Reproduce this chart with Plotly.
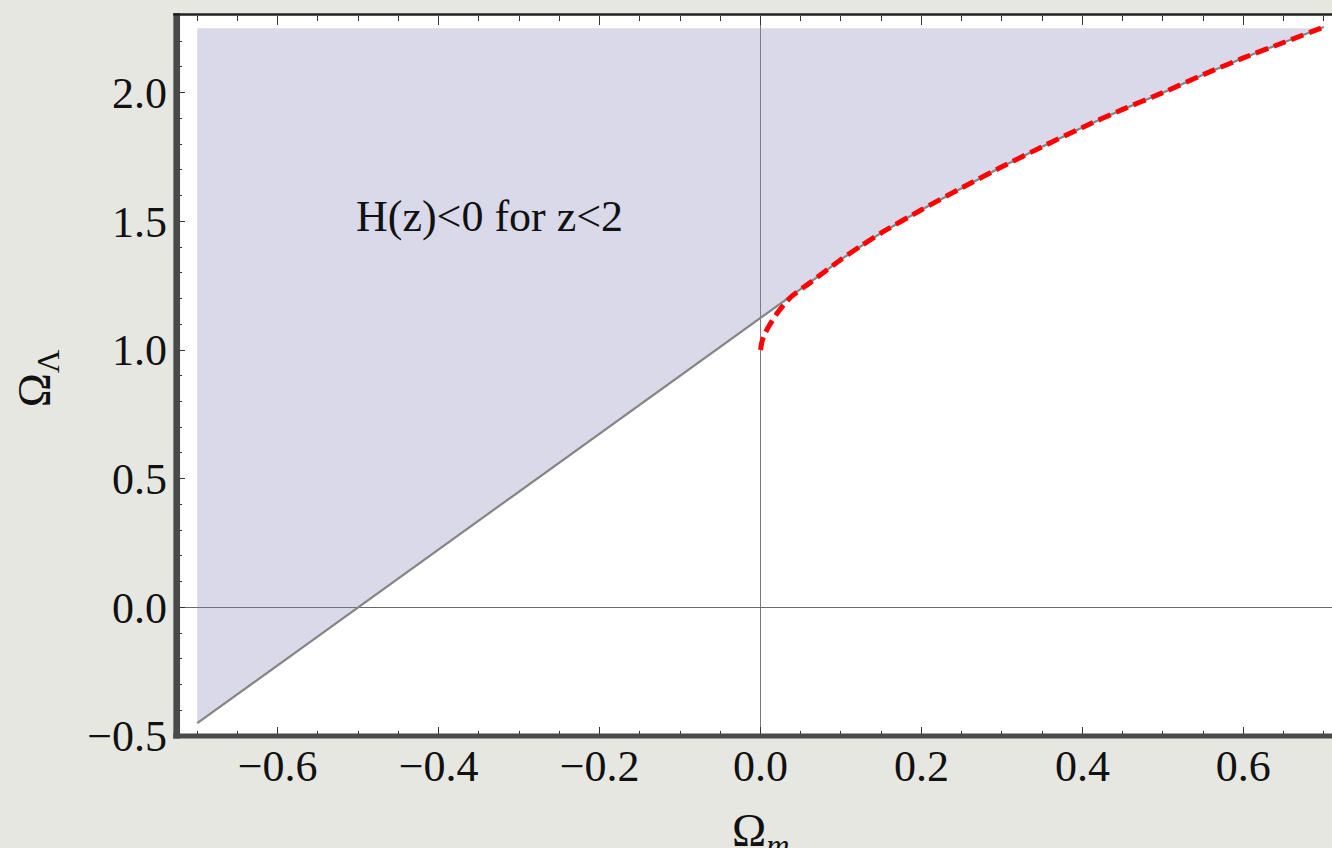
import plotly.graph_objects as go

# ---- data ----
LINE_X = [-0.7, -0.5, 0.0, 0.06]
LINE_Y = [-0.45, 0.0, 1.125, 1.258]

CURVE_X = [0.0, 0.002, 0.005, 0.01, 0.02, 0.03, 0.04, 0.06, 0.08, 0.1, 0.125, 0.15,
           0.2, 0.25, 0.3, 0.35, 0.4, 0.45, 0.5, 0.55, 0.6, 0.65, 0.7]
CURVE_Y = [1.0, 1.035, 1.06, 1.09, 1.14, 1.18, 1.212, 1.258, 1.305, 1.352, 1.405, 1.455,
           1.545, 1.63, 1.712, 1.79, 1.865, 1.935, 2.0, 2.07, 2.135, 2.195, 2.255]

REGION_TOP = 2.25
REGION_LEFT = -0.7

X_TICKS = [-0.6, -0.4, -0.2, 0.0, 0.2, 0.4, 0.6]
X_TICK_TEXT = ["\u22120.6", "\u22120.4", "\u22120.2", "0.0", "0.2", "0.4", "0.6"]
Y_TICKS = [-0.5, 0.0, 0.5, 1.0, 1.5, 2.0]
Y_TICK_TEXT = ["\u22120.5", "0.0", "0.5", "1.0", "1.5", "2.0"]

LABEL = "H(z)&lt;0 for z&lt;2"

# ---- derived paths ----
i_join = CURVE_X.index(LINE_X[-1])
upper_curve_x = CURVE_X[i_join:]
upper_curve_y = CURVE_Y[i_join:]

fill_x = [REGION_LEFT, REGION_LEFT, upper_curve_x[-1]] + upper_curve_x[::-1] + LINE_X[::-1]
fill_y = [LINE_Y[0], REGION_TOP, REGION_TOP] + upper_curve_y[::-1] + LINE_Y[::-1]

bound_x = LINE_X + upper_curve_x[1:]
bound_y = LINE_Y + upper_curve_y[1:]

FONT = "Liberation Serif, Times New Roman, serif"

fig = go.Figure()
fig.add_trace(go.Scatter(x=fill_x, y=fill_y, mode="lines", fill="toself",
                         fillcolor="rgba(128,128,185,0.30)", line=dict(width=0),
                         hoverinfo="skip", showlegend=False))
fig.add_trace(go.Scatter(x=bound_x, y=bound_y, mode="lines",
                         line=dict(color="#858585", width=2.2), showlegend=False))
fig.add_trace(go.Scatter(x=CURVE_X, y=CURVE_Y, mode="lines",
                         line=dict(color="#ff0000", width=5, dash="13px,6px", shape="spline",
                                   smoothing=0.6),
                         showlegend=False))

W, H = 1332, 848
ml, mr, mt, mb = 180, 0, 16, 112.4
plot_w = W - ml - mr
plot_h = H - mt - mb

def px_x(p):
    return (p - ml) / plot_w

def px_y(p):
    return (H - mb - p) / plot_h

fig.update_layout(
    width=W, height=H,
    margin=dict(l=ml, r=mr, t=mt, b=mb, pad=0),
    paper_bgcolor="#e7e7e2",
    plot_bgcolor="#ffffff",
    font=dict(family=FONT, color="#111111", size=44),
    showlegend=False,
    xaxis=dict(range=[-0.7214, 0.7102], showgrid=False, zeroline=True,
               zerolinecolor="#7a7a7a", zerolinewidth=1.3,
               tickmode="array", tickvals=X_TICKS, ticktext=X_TICK_TEXT,
               ticks="inside", ticklen=9, tickwidth=1.3, tickcolor="#333333",
               mirror="ticks", showline=False,
               minor=dict(dtick=0.05, tick0=0, ticks="inside", ticklen=5,
                          tickwidth=1.1, tickcolor="#333333", showgrid=False),
               tickfont=dict(family=FONT, size=44, color="#111111"),
               ticklabelstandoff=0),
    yaxis=dict(range=[-0.5, 2.298], showgrid=False, zeroline=True,
               zerolinecolor="#6a6a6a", zerolinewidth=1.3,
               tickmode="array", tickvals=Y_TICKS, ticktext=Y_TICK_TEXT,
               ticks="inside", ticklen=5, tickwidth=1.3, tickcolor="#333333",
               showline=False,
               minor=dict(dtick=0.1, tick0=0, ticks="inside", ticklen=2,
                          tickwidth=1.1, tickcolor="#333333", showgrid=False),
               tickfont=dict(family=FONT, size=44, color="#111111"),
               ticklabelstandoff=12),
)

# frame (thick left/bottom, thin top)
fig.add_shape(type="line", xref="paper", yref="paper",
              x0=px_x(176.7), x1=px_x(176.7), y0=px_y(738), y1=px_y(13),
              line=dict(color="#4a4a4a", width=6.7), layer="above")
fig.add_shape(type="line", xref="paper", yref="paper",
              x0=px_x(173.3), x1=1.0, y0=px_y(735.5), y1=px_y(735.5),
              line=dict(color="#4a4a4a", width=5), layer="above")
fig.add_shape(type="line", xref="paper", yref="paper",
              x0=px_x(173.3), x1=1.0, y0=px_y(14.5), y1=px_y(14.5),
              line=dict(color="#222222", width=2.4), layer="above")

fig.add_annotation(x=-0.3374, y=1.52, xref="x", yref="y", text=LABEL, showarrow=False,
                   font=dict(family=FONT, size=44, color="#111111"),
                   xanchor="center", yanchor="middle")

fig.add_annotation(x=px_x(760), y=px_y(834), xref="paper", yref="paper",
                   text="\u03a9<sub><i>m</i></sub>", showarrow=False,
                   font=dict(family=FONT, size=46, color="#111111"),
                   xanchor="center", yanchor="middle")
fig.add_annotation(x=px_x(38), y=px_y(378), xref="paper", yref="paper",
                   text="\u03a9<sub>\u039b</sub>", showarrow=False, textangle=-90,
                   font=dict(family=FONT, size=46, color="#111111"),
                   xanchor="center", yanchor="middle")

fig.write_html("out.html", config={"displayModeBar": False},
               post_script="document.body.style.margin='0';document.body.style.overflow='hidden';")
